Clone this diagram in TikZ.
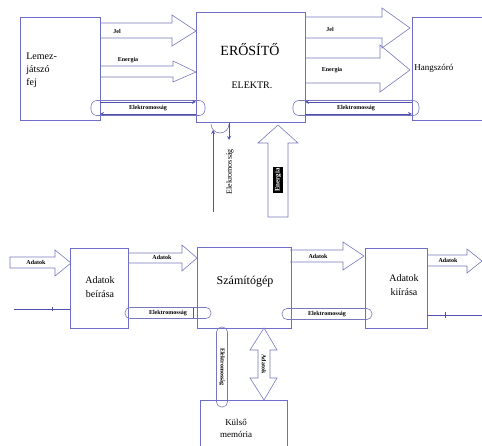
\documentclass[tikz,border=0pt]{standalone}
\usepackage{fontspec}
\setmainfont{Liberation Serif}
\begin{document}
\begin{tikzpicture}[x=1pt,y=-1pt,
  line width=0.6pt,
  box/.style={draw=boxc,line width=0.7pt,inner sep=0pt},
  arr/.style={draw=arrc,line width=0.6pt},
  wire/.style={draw=wirec,line width=0.8pt},
  tiny/.style={font=\fontsize{6}{7}\selectfont\bfseries,inner sep=0.5pt},
  elec/.style={draw=arrc,rounded corners=6pt,line width=0.6pt,inner sep=0pt,font=\fontsize{6}{7}\selectfont\bfseries},
  lbl/.style={font=\fontsize{10}{11}\selectfont,align=center,inner sep=0pt}]
\definecolor{boxc}{RGB}{110,110,200}
\definecolor{arrc}{RGB}{120,120,190}
\definecolor{wirec}{RGB}{80,80,180}
\useasboundingbox (0,0) rectangle (482,446);
% ===== top row boxes
\node[box,minimum width=80pt,minimum height=103pt] (lem) at (60,68.5) {};
\node[lbl,align=left,anchor=west] (lemt) at (26,70) {Lemez-\\[2pt]játszó\\[2pt]fej};
\node[box,minimum width=109pt,minimum height=110pt] (amp) at (250.5,67) {};
\node[lbl,font=\fontsize{14}{15}\selectfont] (ampt1) at (250,50) {ERŐSÍTŐ};
\node[lbl] (ampt2) at (252,85) {ELEKTR.};
\node[box,minimum width=80pt,minimum height=103pt] (hang) at (452,68.5) {};
\node[lbl,anchor=west,font=\fontsize{9}{10}\selectfont] (hangt) at (414,68) {Hangszóró};
% arrows lem -> amp
\draw[arr] (100,23) -- (172,23) -- (172,15) -- (196,31) -- (172,46) -- (172,38) -- (100,38);
\node[tiny] (j1) at (117,31) {Jel};
\draw[arr] (100,66) -- (173,66) -- (173,61) -- (196,72) -- (173,82) -- (173,77) -- (100,77);
\node[tiny] (e1) at (128,60) {Energia};
% arrows amp -> hang
\draw[arr] (305,17) -- (382,17) -- (382,8) -- (410,28) -- (382,48) -- (382,38) -- (305,38);
\node[tiny] (j2) at (330,29) {Jel};
\draw[arr] (305,58) -- (380,58) -- (380,45) -- (410,70) -- (380,92) -- (380,83) -- (305,83);
\node[tiny] (e2) at (332,70) {Energia};
% elektromosság lem <-> amp
\node[elec,minimum width=114pt,minimum height=15pt] (el1) at (148,108) {Elektromosság};
\draw[wire,->,>=stealth] (100,102) -- (196,102);
\draw[wire,<-,>=stealth] (100,114) -- (196,114);
% elektromosság amp <-> hang
\node[elec,minimum width=126pt,minimum height=15pt] (el2) at (356,108) {Elektromosság};
\draw[wire,<-,>=stealth] (305,102) -- (412,102);
\draw[wire,->,>=stealth] (305,114) -- (412,114);
% vertical under amp
\draw[arr] (211,124) arc[start angle=180,end angle=0,radius=9];
\draw[wire,<-,>=stealth] (213,130) -- (213,212);
\draw[wire,->,>=stealth] (229,123) -- (229,140);
\node[rotate=90,fill=white,inner sep=1pt,font=\fontsize{8}{9}\selectfont] (ev) at (230,172) {Elekromosság};
% Energia up arrow
\draw[arr] (268,217) -- (268,143) -- (258,143) -- (278,125) -- (298,143) -- (288,143) -- (288,217) -- cycle;
\node[rotate=90,fill=black,text=white,inner sep=1.5pt,font=\fontsize{7}{8}\selectfont\bfseries] (ee) at (278,180) {Energia};
% ===== bottom row
\draw[arr] (10,257) -- (55,257) -- (55,250) -- (71,263) -- (55,276) -- (55,268) -- (10,268) -- cycle;
\node[tiny] (ad0) at (36,262) {Adatok};
\node[box,minimum width=58pt,minimum height=80pt] (bev) at (99,288) {};
\node[lbl] (bevt) at (100,287) {Adatok\\[3pt]beírása};
\draw[wire] (bev.west |- 0,309) -- (14,309);
\draw[wire] (52,307) -- (52,311);
\draw[arr] (128,253) -- (182,253) -- (182,245) -- (197,258) -- (182,271) -- (182,263) -- (128,263);
\node[tiny] (ad1) at (162,257) {Adatok};
\node[elec,minimum width=86pt,minimum height=11pt,rounded corners=5pt] (el3) at (168,313) {Elektromosság};
\draw[wire] (193,308) -- (193,318);
\node[box,minimum width=94pt,minimum height=81pt] (comp) at (244,287.5) {};
\node[lbl,font=\fontsize{12}{13}\selectfont] (compt) at (245,282) {Számítógép};
\draw[arr] (290,250) -- (343,250) -- (343,242) -- (364,256) -- (343,270) -- (343,262) -- (290,262);
\node[tiny] (ad2) at (318,256) {Adatok};
\node[elec,minimum width=90pt,minimum height=11pt,rounded corners=5pt] (el4) at (327,314) {Elektromosság};
\node[box,minimum width=62pt,minimum height=80pt] (kii) at (396,288) {};
\node[lbl] (kiit) at (404,285) {Adatok\\[3pt]kiírása};
\draw[arr] (427,255) -- (467,255) -- (467,249) -- (482,261) -- (467,273) -- (467,266) -- (427,266);
\node[tiny] (ad3) at (448,260) {Adatok};
\draw[wire] (kii.east |- 0,315) -- (482,315);
\draw[wire] (445,312) -- (445,318);
% vertical below comp
\node[elec,rotate=-90,minimum width=80pt,minimum height=11pt,rounded corners=5pt] (el5) at (222,367) {Elektromosság};
\draw[arr] (258,350) -- (250,350) -- (264,328) -- (277,350) -- (270,350) -- (270,378) -- (277,378) -- (264,400) -- (250,378) -- (258,378) -- cycle;
\node[tiny,rotate=-90] (ad4) at (264,364) {Adatok};
\node[box,minimum width=87pt,minimum height=60pt] (mem) at (243.5,430) {};
\node[lbl,font=\fontsize{9}{10}\selectfont] (memt) at (236,428) {Külső\\[2pt]memória};
\end{tikzpicture}
\end{document}
